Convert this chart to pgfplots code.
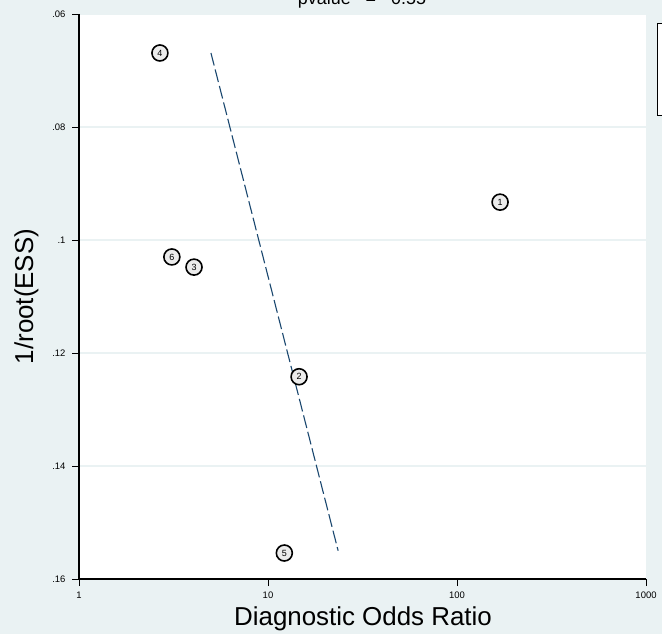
\documentclass[border=0pt]{standalone}
\usepackage{fontspec}
\setmainfont{Liberation Sans}
\usepackage{pgfplots}
\pgfplotsset{compat=1.18}

\definecolor{bg}{RGB}{234,242,243}
\definecolor{stnavy}{RGB}{26,71,111}
\definecolor{mk}{RGB}{236,236,236}

\begin{document}
\begin{tikzpicture}[x=1bp,y=1bp]
\fill[bg] (0,0) rectangle (662,634);
\begin{axis}[
    at={(79bp,55bp)}, anchor=south west,
    scale only axis, width=567bp, height=565bp,
    xmode=log, xmin=1, xmax=1000,
    ymin=0.06, ymax=0.16, y dir=reverse,
    axis background/.style={fill=white},
    axis line style={draw=none},
    xtick={1,10,100,1000}, xticklabels={1,10,100,1000},
    ytick={0.06,0.08,0.1,0.12,0.14,0.16},
    yticklabels={.06,.08,.1,.12,.14,.16},
    xminorticks=false,
    xtick pos=left, ytick pos=left,
    tick align=outside, major tick length=7bp,
    tick style={black, line width=0.9bp},
    /pgf/number format/assume math mode=true,
    ticklabel style={font=\fontsize{9.5}{10}\selectfont},
    xticklabel style={yshift=-2bp},
    yticklabel style={xshift=-3bp},
    ymajorgrids, grid style={color=bg, line width=2bp},
    clip=false,
]
    % axis lines (left and bottom only)
    \draw[black, line width=1.1bp] (axis cs:1,0.06) -- (axis cs:1,0.16) -- (axis cs:1000,0.16);

    % regression line
    \addplot[stnavy, line width=1.1bp, dash pattern=on 13bp off 4bp] coordinates {
        (4.99,0.0669) (23.5,0.1550)
    };

    % studies
    \addplot[only marks, mark=*, mark size=8bp,
        mark options={fill=mk, draw=black, line width=1.6bp},
        nodes near coords, point meta=explicit symbolic,
        every node near coord/.style={anchor=center, font=\fontsize{9}{9}\selectfont}]
    coordinates {
        (169,0.0933)[1]
        (14.6,0.1242)[2]
        (4.06,0.1048)[3]
        (2.68,0.0669)[4]
        (12.2,0.1554)[5]
        (3.1,0.1030)[6]
    };
\end{axis}

\node[anchor=base, font=\fontsize{26}{26}\selectfont] at (363,8) {Diagnostic Odds Ratio};
\node[rotate=90, anchor=base, font=\fontsize{26}{26}\selectfont] at (33,337.5) {1/root(ESS)};
\node[anchor=base, font=\fontsize{18}{18}\selectfont] at (362,629) {pvalue\hspace{15bp}=\hspace{15bp}0.55};
\draw[black, fill=white, line width=0.9bp] (657,611) rectangle (700,519);

\pgfresetboundingbox
\useasboundingbox (0,0) rectangle (662,634);
\end{tikzpicture}
\end{document}
